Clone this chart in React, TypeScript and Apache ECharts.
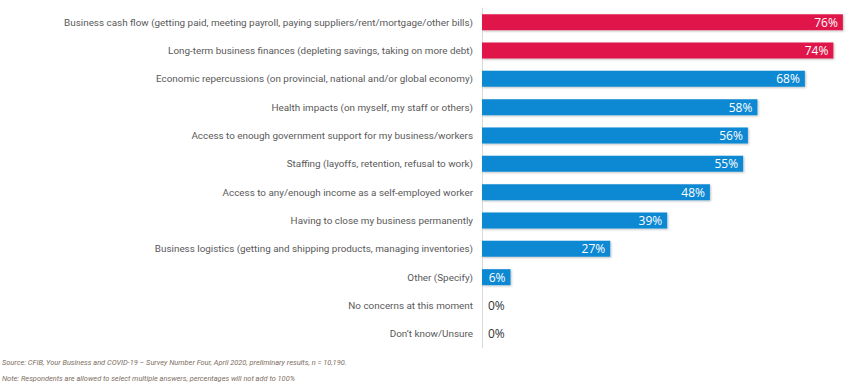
import React, { useEffect, useRef } from "react";
import * as echarts from "echarts";

const categories = [
  "Business cash flow (getting paid, meeting payroll, paying suppliers/rent/mortgage/other bills)",
  "Long-term business finances (depleting savings, taking on more debt)",
  "Economic repercussions (on provincial, national and/or global economy)",
  "Health impacts (on myself, my staff or others)",
  "Access to enough government support for my business/workers",
  "Staffing (layoffs, retention, refusal to work)",
  "Access to any/enough income as a self-employed worker",
  "Having to close my business permanently",
  "Business logistics (getting and shipping products, managing inventories)",
  "Other (Specify)",
  "No concerns at this moment",
  "Don\u2019t know/Unsure",
];

const values = [76, 74, 68, 58, 56, 55, 48, 39, 27, 6, 0, 0];
const highlighted = [true, true, false, false, false, false, false, false, false, false, false, false];

const sourceNote =
  "Source: CFIB, Your Business and COVID-19 \u2013 Survey Number Four, April 2020, preliminary results, n = 10,190.";
const footNote =
  "Note: Respondents are allowed to select multiple answers, percentages will not add to 100%";

const RED = "#E0194B";
const BLUE = "#0A88D3";

export default function App() {
  const ref = useRef<HTMLDivElement>(null);
  useEffect(() => {
    if (!ref.current) return;
    const chart = echarts.init(ref.current, undefined, { renderer: "svg" });
    const data = values.map((v, i) => ({
      value: v,
      itemStyle: { color: highlighted[i] ? RED : BLUE },
      label:
        v === 0
          ? { position: "right", color: "#333333", distance: 6 }
          : { position: "insideRight", color: "#ffffff", distance: 5 },
    }));
    chart.setOption({
      animation: false,
      backgroundColor: "#ffffff",
      grid: {
        left: 482,
        right: 0,
        top: 8,
        height: 340,
        containLabel: false,
        outerBoundsMode: "none",
      },
      xAxis: {
        type: "value",
        min: 0,
        max: 77.5,
        show: false,
        splitLine: { show: false },
      },
      yAxis: {
        type: "category",
        data: categories,
        inverse: true,
        axisLine: { show: true, lineStyle: { color: "#d9d9d9", width: 1 } },
        axisTick: { show: false },
        axisLabel: {
          margin: 9,
          color: "#595959",
          fontSize: 9.9,
          fontFamily: "Roboto",
        },
      },
      series: [
        {
          type: "bar",
          data,
          barWidth: 16,
          itemStyle: {
            shadowColor: "rgba(0,0,0,0.25)",
            shadowBlur: 2,
            shadowOffsetX: 1,
            shadowOffsetY: 1,
          },
          label: {
            show: true,
            formatter: "{c}%",
            fontSize: 12,
            fontFamily: "Open Sans",
          },
        },
      ],
      graphic: [
        {
          type: "text",
          left: 2,
          top: 359,
          style: {
            text: sourceNote,
            fill: "#7d6d61",
            fontSize: 7.4,
            fontStyle: "italic",
            fontFamily: "Roboto",
          },
        },
        {
          type: "text",
          left: 2,
          top: 375,
          style: {
            text: footNote,
            fill: "#7d6d61",
            fontSize: 7.4,
            fontStyle: "italic",
            fontFamily: "Roboto",
          },
        },
      ],
    });
    return () => chart.dispose();
  }, []);
  return (
    <div style={{ position: "absolute", left: 0, top: 0 }}>
      <div ref={ref} style={{ width: 850, height: 385 }} />
    </div>
  );
}
